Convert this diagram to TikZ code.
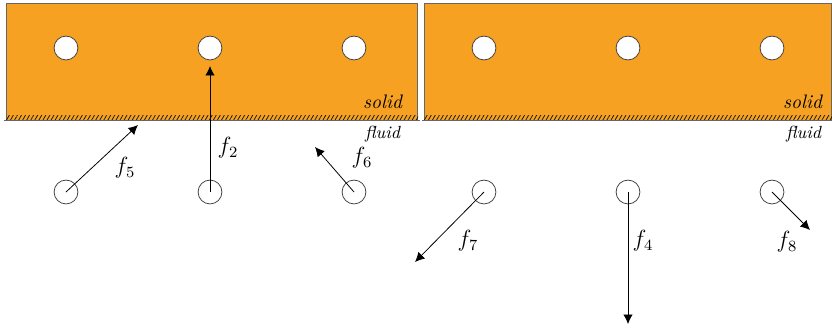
\documentclass[tikz,border=0pt]{standalone}
\usepackage{tikz}
\usetikzlibrary{arrows.meta, patterns.meta, positioning}
\definecolor{solidorange}{RGB}{246,161,33}

\begin{document}
\begin{tikzpicture}[
    x=0.018cm, y=-0.018cm,
    every node/.style={font=\normalsize},
    solidBlock/.style={draw=black!60, fill=solidorange},
    wallHatch/.style={pattern={Lines[angle=60, distance=1.8pt, line width=0.4pt]}, pattern color=black!90},
    wallLine/.style={draw=black!60},
    atomS/.style={circle, draw=black!75, fill=white, minimum size=0.43cm, inner sep=0pt},
    atomF/.style={circle, draw=black!75, minimum size=0.43cm, inner sep=0pt},
    force/.style={-{Latex[length=1.7mm, width=1.7mm]}, black},
    flabel/.style={font=\large},
    phase/.style={font=\itshape, anchor=base east}
]
\useasboundingbox (0,0) rectangle (832,328);

% ============== Solid blocks ==============
\draw[solidBlock] (6,3) rectangle (417,120);
\fill[wallHatch] (6,115) rectangle (418,120);
\draw[wallLine] (4,120) -- (420,120);

\draw[solidBlock] (424,3) rectangle (831,120);
\fill[wallHatch] (424,115) rectangle (832,120);
\draw[wallLine] (422,120) -- (832,120);

\node[phase] (solidL) at (409,108) {solid};
\node[phase, font=\small\itshape] (fluidL) at (407,138) {fluid};
\node[phase] (solidR) at (829,108) {solid};
\node[phase, font=\small\itshape] (fluidR) at (828,138) {fluid};

% ============== Atoms ==============
\foreach \i/\x in {1/66, 2/210, 3/354, 4/484, 5/628, 6/772} {
  \node[atomS] (s\i) at (\x,48) {};
  \node[atomF] (l\i) at (\x,192) {};
}

% ============== Forces ==============
\coordinate (tip5) at (138,125);
\coordinate (tip2) at (210,66);
\coordinate (tip6) at (315,147);
\coordinate (tip7) at (415,262);
\coordinate (tip4) at (628,324);
\coordinate (tip8) at (810,230);

\draw[force] (l1.center) -- (tip5);
\draw[force] (l2.center) -- (tip2);
\draw[force] (l3.center) -- (tip6);
\draw[force] (l4.center) -- (tip7);
\draw[force] (l5.center) -- (tip4);
\draw[force] (l6.center) -- (tip8);

\node[flabel] (f5) at (125,168) {$f_5$};
\node[flabel] (f2) at (228,148) {$f_2$};
\node[flabel] (f6) at (362,158) {$f_6$};
\node[flabel] (f7) at (468,241) {$f_7$};
\node[flabel] (f4) at (643,241) {$f_4$};
\node[flabel] (f8) at (787,242) {$f_8$};
\end{tikzpicture}
\end{document}
